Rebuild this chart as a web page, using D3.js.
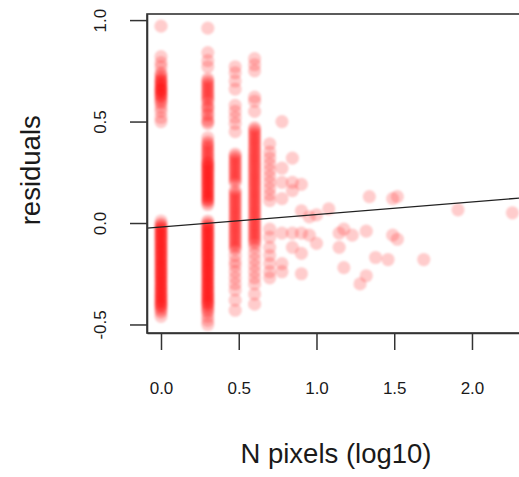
<!DOCTYPE html>
<html>
<head>
<meta charset="utf-8">
<script src="https://cdn.jsdelivr.net/npm/d3@7/dist/d3.min.js"></script>
<style>
  html, body { margin: 0; padding: 0; background: #fff; }
  svg { display: block; }
  text { font-family: "Liberation Sans", Arial, Helvetica, sans-serif; fill: #1a1a1a; }
</style>
</head>
<body>
<svg id="chart" width="519" height="477"></svg>
<script>
// ---------- data ----------
const xTicks = [0.0, 0.5, 1.0, 1.5, 2.0];
const yTicks = [-0.5, 0.0, 0.5, 1.0];
const xLabel = "N pixels (log10)";
const yLabel = "residuals";

// columns of residuals at discrete log10(N pixels) values
const colX = [0, 0.301, 0.477, 0.602];
const residAt1px = [0.97, 0.82, 0.79, 0.77, 0.74, 0.73, 0.72, 0.71, 0.70, 0.70, 0.69, 0.68, 0.68, 0.67, 0.66, 0.66, 0.65, 0.65, 0.64, 0.63, 0.63, 0.62, 0.61, 0.60, 0.59, 0.57, 0.55, 0.52, 0.50,
  0.01, -0.005, -0.01, -0.02, -0.025, -0.03, -0.04, -0.045, -0.05, -0.06, -0.065, -0.07, -0.08, -0.085, -0.09, -0.10, -0.105, -0.11, -0.12, -0.125, -0.13, -0.14, -0.145, -0.15, -0.16, -0.165, -0.17, -0.18, -0.185, -0.19, -0.20, -0.205, -0.21, -0.22, -0.225, -0.23, -0.24, -0.245, -0.25, -0.26, -0.265, -0.27, -0.28, -0.285, -0.29, -0.30, -0.305, -0.31, -0.32, -0.325, -0.33, -0.34, -0.345, -0.35, -0.36, -0.365, -0.37, -0.38, -0.385, -0.39, -0.40, -0.405, -0.41, -0.42, -0.43, -0.44, -0.46];
const residAt2px = [0.96, 0.84, 0.80, 0.77, 0.71, 0.70, 0.69, 0.68, 0.67, 0.66, 0.65, 0.64, 0.63, 0.62, 0.61, 0.60, 0.58, 0.57, 0.56, 0.54, 0.53, 0.51, 0.50, 0.49,
  0.42, 0.40, 0.39, 0.38, 0.37, 0.36, 0.35, 0.34, 0.33, 0.32, 0.31, 0.30, 0.295, 0.29, 0.28, 0.275, 0.27, 0.26, 0.255, 0.25, 0.24, 0.235, 0.23, 0.22, 0.215, 0.21, 0.20, 0.195, 0.19, 0.18, 0.175, 0.17, 0.16, 0.155, 0.15, 0.14, 0.135, 0.13, 0.12, 0.115, 0.11, 0.10, 0.09,
  0.01, 0.0, -0.01, -0.015, -0.02, -0.03, -0.035, -0.04, -0.05, -0.055, -0.06, -0.07, -0.075, -0.08, -0.09, -0.095, -0.10, -0.11, -0.115, -0.12, -0.13, -0.135, -0.14, -0.15, -0.155, -0.16, -0.17, -0.175, -0.18, -0.19, -0.195, -0.20, -0.21, -0.215, -0.22, -0.23, -0.235, -0.24, -0.25, -0.255, -0.26, -0.27, -0.275, -0.28, -0.29, -0.295, -0.30, -0.31, -0.315, -0.32, -0.33, -0.335, -0.34, -0.35, -0.355, -0.36, -0.37, -0.375, -0.38, -0.39, -0.395, -0.40, -0.41, -0.42, -0.43, -0.44, -0.46, -0.48, -0.50];
const residAt3px = [0.77, 0.74, 0.70, 0.66, 0.58, 0.55, 0.52, 0.49, 0.45,
  0.34, 0.33, 0.32, 0.31, 0.30, 0.29, 0.28, 0.27, 0.26, 0.25, 0.24, 0.23, 0.22, 0.21, 0.20,
  0.16, 0.15, 0.14, 0.13, 0.12, 0.11, 0.10, 0.09, 0.08, 0.07, 0.06, 0.05, 0.04, 0.03, 0.02, 0.01, 0.0, -0.01, -0.02, -0.03, -0.04, -0.05, -0.06, -0.07, -0.08, -0.09, -0.10, -0.11, -0.12, -0.13,
  -0.16, -0.19, -0.21, -0.24, -0.27, -0.30, -0.33, -0.38, -0.43];
const residAt4px = [0.81, 0.78, 0.75, 0.62, 0.60, 0.55,
  0.47, 0.46, 0.45, 0.44, 0.43, 0.42, 0.41, 0.40, 0.39, 0.38, 0.37, 0.36, 0.35, 0.34, 0.33, 0.32, 0.31, 0.30, 0.29, 0.28, 0.27, 0.26, 0.25, 0.24, 0.23, 0.22, 0.21, 0.20, 0.19, 0.18, 0.17, 0.16, 0.15, 0.14, 0.13, 0.12, 0.11, 0.10, 0.09, 0.08, 0.07, 0.06, 0.05, 0.04, 0.03, 0.02, 0.01, 0.0, -0.01, -0.02, -0.03, -0.04, -0.05, -0.06, -0.07, -0.08, -0.09, -0.10, -0.12,
  -0.15, -0.18, -0.21, -0.24, -0.27, -0.30, -0.35, -0.40];
const columnResiduals = [residAt1px, residAt2px, residAt3px, residAt4px];

// sparse points at larger pixel counts
const scatterX = [0.699, 0.699, 0.699, 0.699, 0.699, 0.699, 0.699, 0.699, 0.699, 0.699, 0.699, 0.699, 0.699, 0.699, 0.699, 0.699, 0.699,
  0.778, 0.778, 0.778, 0.778, 0.778, 0.778, 0.778,
  0.845, 0.845, 0.845, 0.845, 0.845,
  0.903, 0.903, 0.903, 0.903, 0.903,
  0.954, 0.954, 1.0, 1.0, 1.079, 1.146, 1.146, 1.176, 1.176, 1.23, 1.28, 1.32, 1.32, 1.34, 1.38,
  1.46, 1.49, 1.49, 1.52, 1.52, 1.69, 1.91, 2.26];
const scatterY = [0.39, 0.35, 0.32, 0.29, 0.26, 0.23, 0.20, 0.17, 0.14, 0.11, -0.03, -0.07, -0.12, -0.16, -0.20, -0.24, -0.27,
  0.50, 0.27, 0.20, 0.12, -0.05, -0.20, -0.24,
  0.32, 0.20, 0.16, -0.05, -0.12,
  0.19, 0.06, -0.05, -0.15, -0.25,
  0.03, -0.06, 0.04, -0.10, 0.07, -0.05, -0.12, -0.03, -0.22, -0.06, -0.30, -0.04, -0.26, 0.13, -0.17,
  -0.18, -0.06, 0.12, 0.13, -0.08, -0.18, 0.065, 0.05];

// fitted regression line (residuals ~ log10 N pixels)
const fitIntercept = -0.02;
const fitSlope = 0.062;

// ---------- drawing ----------
const svg = d3.select("#chart");
const plotLeft = 147, plotRight = 525, plotTop = 14, plotBottom = 333;

const x = d3.scaleLinear().domain([-0.09, 2.341]).range([plotLeft, plotRight]);
const y = d3.scaleLinear().domain([-0.542, 1.03]).range([plotBottom, plotTop]);
const fmt = d => d.toFixed(1);

const points = [];
colX.forEach((cx, i) => columnResiduals[i].forEach(r => points.push([cx, r])));
scatterX.forEach((sx, i) => points.push([sx, scatterY[i]]));

const defs = svg.append("defs");
defs.append("clipPath").attr("id", "clip")
  .append("rect").attr("x", plotLeft).attr("y", plotTop)
  .attr("width", plotRight - plotLeft).attr("height", plotBottom - plotTop);
defs.append("filter").attr("id", "soft")
  .append("feGaussianBlur").attr("stdDeviation", 0.9);

svg.append("g").attr("clip-path", "url(#clip)")
  .append("g").attr("filter", "url(#soft)")
  .selectAll("circle").data(points).join("circle")
  .attr("cx", d => x(d[0])).attr("cy", d => y(d[1]))
  .attr("r", 6.6)
  .attr("fill", "rgb(255,0,0)").attr("fill-opacity", 0.2);

// regression line
const xd = x.domain();
svg.append("line").attr("clip-path", "url(#clip)")
  .attr("x1", x(xd[0])).attr("y1", y(fitIntercept + fitSlope * xd[0]))
  .attr("x2", x(xd[1])).attr("y2", y(fitIntercept + fitSlope * xd[1]))
  .attr("stroke", "#222").attr("stroke-width", 1.3);

// box
svg.append("rect").attr("x", plotLeft).attr("y", plotTop)
  .attr("width", plotRight - plotLeft).attr("height", plotBottom - plotTop)
  .attr("fill", "none").attr("stroke", "#333").attr("stroke-width", 1.6);

// x axis
const xAxis = d3.axisBottom(x).tickValues(xTicks).tickSize(17).tickSizeOuter(0)
  .tickPadding(32).tickFormat(fmt);
const gx = svg.append("g").attr("transform", `translate(0,${plotBottom})`).call(xAxis);
gx.select(".domain").attr("stroke", "#333").attr("stroke-width", 1.6);
gx.selectAll(".tick line").attr("stroke", "#333").attr("stroke-width", 1.5);
gx.selectAll(".tick text").attr("font-size", 17).attr("fill", "#1a1a1a")
  .style("font-family", '"Liberation Sans", Arial, sans-serif');

// y axis
const yAxis = d3.axisLeft(y).tickValues(yTicks).tickSize(17).tickSizeOuter(0).tickFormat(fmt);
const gy = svg.append("g").attr("transform", `translate(${plotLeft},0)`).call(yAxis);
gy.select(".domain").attr("stroke", "#333").attr("stroke-width", 1.6);
gy.selectAll(".tick line").attr("stroke", "#333").attr("stroke-width", 1.5);
gy.selectAll(".tick text")
  .attr("x", null).attr("dy", null)
  .attr("text-anchor", "middle")
  .attr("transform", `translate(${100 - plotLeft},0) rotate(-90)`)
  .attr("dy", "0.35em")
  .attr("font-size", 17).attr("fill", "#1a1a1a")
  .style("font-family", '"Liberation Sans", Arial, sans-serif');

// axis titles
svg.append("text")
  .attr("x", (plotLeft + plotRight) / 2).attr("y", 463)
  .attr("text-anchor", "middle").attr("font-size", 27.5)
  .text(xLabel);
svg.append("text")
  .attr("transform", `translate(40,${y(0.26)}) rotate(-90)`)
  .attr("text-anchor", "middle").attr("font-size", 27.5)
  .text(yLabel);
</script>
</body>
</html>
